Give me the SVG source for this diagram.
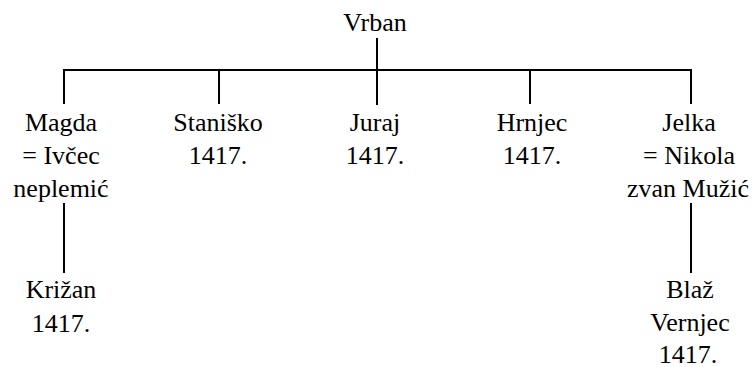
<svg xmlns="http://www.w3.org/2000/svg" width="755" height="367" viewBox="0 0 755 367">
<rect width="755" height="367" fill="#fff"/>
<g id="connectors" stroke="#000" stroke-width="2" fill="none">
<path d="M377 38V105"/>
<path d="M64 104V70H691V104"/>
<path d="M219 70V104"/>
<path d="M530 70V104"/>
<path d="M64 203V273"/>
<path d="M691 203V273"/>
</g>
<g font-family="Times New Roman, Liberation Serif, serif" font-size="26" text-anchor="middle" fill="#000">
<g id="vrban"><text x="375" y="31">Vrban</text></g>
<g id="magda"><text x="61" y="131">Magda</text><text x="61" y="164">= Ivčec</text><text x="61" y="197">neplemić</text></g>
<g id="stanisko"><text x="218" y="131">Staniško</text><text x="218" y="164">1417.</text></g>
<g id="juraj"><text x="375" y="131">Juraj</text><text x="375" y="164">1417.</text></g>
<g id="hrnjec"><text x="532" y="131">Hrnjec</text><text x="532" y="164">1417.</text></g>
<g id="jelka"><text x="689" y="131">Jelka</text><text x="689" y="164">= Nikola</text><text x="688" y="197">zvan Mužić</text></g>
<g id="krizan"><text x="61" y="298">Križan</text><text x="61" y="332">1417.</text></g>
<g id="blaz"><text x="690" y="298">Blaž</text><text x="690" y="331">Vernjec</text><text x="688" y="363">1417.</text></g>
</g>
</svg>
